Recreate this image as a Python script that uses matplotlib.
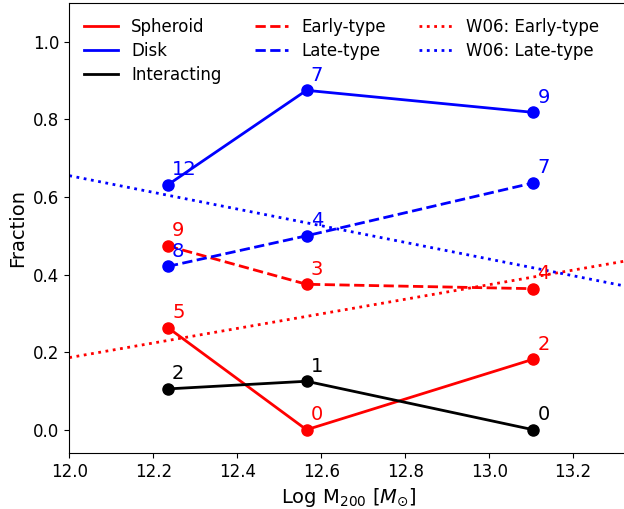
#!/usr/bin/env python3
"""Morphology fractions vs group halo mass."""

import matplotlib
matplotlib.use("Agg")
import matplotlib.pyplot as plt

# Halo mass bins (Log M200)
log_m200 = [12.235, 12.565, 13.105]

# Fractions per bin and galaxy counts
spheroid = [5 / 19, 0 / 8, 2 / 11]
spheroid_n = [5, 0, 2]
disk = [12 / 19, 7 / 8, 9 / 11]
disk_n = [12, 7, 9]
interacting = [2 / 19, 1 / 8, 0 / 11]
interacting_n = [2, 1, 0]
early_type = [9 / 19, 3 / 8, 4 / 11]
early_type_n = [9, 3, 4]
late_type = [8 / 19, 4 / 8, 7 / 11]
late_type_n = [8, 4, 7]

# W06 relations (endpoints)
w06_x = [12.0, 13.33]
w06_early = [0.186, 0.436]
w06_late = [0.655, 0.369]


def main():
    fig = plt.figure(figsize=(6.24, 5.09), dpi=100)
    # right spine sits just outside the canvas, as in the original
    ax = fig.add_axes([0.111, 0.110, 0.895, 0.884])

    series = [
        (spheroid, spheroid_n, "red", "-", "Spheroid"),
        (disk, disk_n, "blue", "-", "Disk"),
        (interacting, interacting_n, "black", "-", "Interacting"),
        (early_type, early_type_n, "red", "--", "Early-type"),
        (late_type, late_type_n, "blue", "--", "Late-type"),
    ]
    for vals, counts, color, ls, label in series:
        ax.plot(log_m200, vals, color=color, linestyle=ls, linewidth=2, label=label)
        ax.plot(log_m200, vals, color=color, linestyle="none", marker="o", markersize=8)
        for x, y, n in zip(log_m200, vals, counts):
            ax.annotate(str(n), (x, y), xytext=(3, 4), textcoords="offset points",
                        ha="left", va="bottom", color=color, fontsize=14)

    ax.plot(w06_x, w06_early, color="red", linestyle=":", linewidth=2,
            label="W06: Early-type")
    ax.plot(w06_x, w06_late, color="blue", linestyle=":", linewidth=2,
            label="W06: Late-type")

    ax.set_xlim(12.0, 13.33)
    ax.set_ylim(-0.06, 1.1)
    ax.set_xticks([12.0, 12.2, 12.4, 12.6, 12.8, 13.0, 13.2])
    ax.set_yticks([0.0, 0.2, 0.4, 0.6, 0.8, 1.0])
    ax.tick_params(labelsize=12)
    ax.set_xlabel(r"Log M$_{200}$ [$M_{\odot}$]", fontsize=14)
    ax.set_ylabel("Fraction", fontsize=14)
    ax.legend(loc="upper left", ncol=3, frameon=False, fontsize=12,
              handlelength=2, columnspacing=2.0, labelspacing=0.35)

    fig.savefig("out.png", dpi=100)
    plt.close(fig)


if __name__ == "__main__":
    main()
